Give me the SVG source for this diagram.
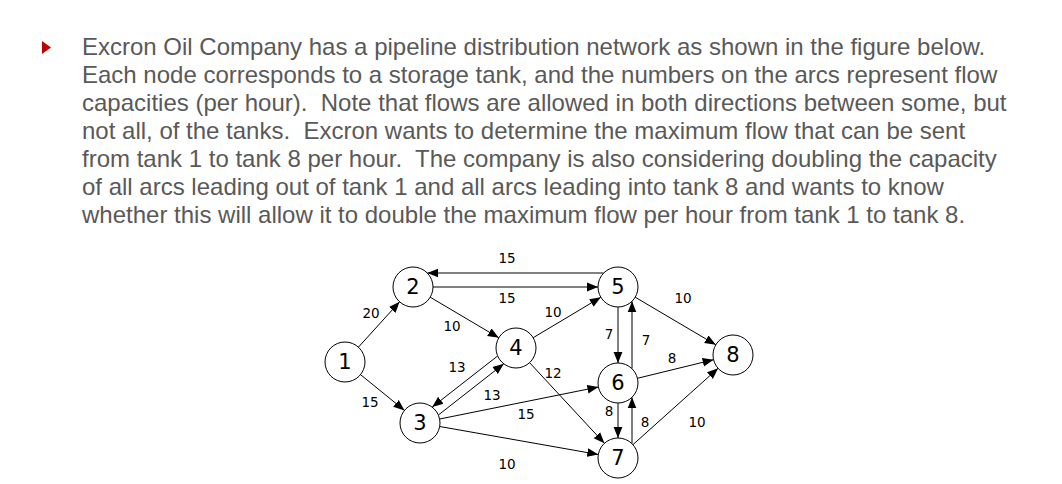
<svg xmlns="http://www.w3.org/2000/svg" width="1062" height="484" viewBox="0 0 1062 484">
<style>
.para{font-family:"Liberation Sans",Arial,sans-serif;font-size:24px;fill:#595959}
.node circle{fill:#fff;stroke:#000;stroke-width:1}
.node text{font-family:"DejaVu Sans",Verdana,sans-serif;font-size:21px;fill:#000;text-anchor:middle;dominant-baseline:central}
.edges line{stroke:#000;stroke-width:1;marker-end:url(#ah)}
.lbl{font-family:"DejaVu Sans",Verdana,sans-serif;font-size:13.5px;fill:#000;text-anchor:middle;dominant-baseline:central}
</style>
<defs>
<marker id="ah" viewBox="0 0 10 10" refX="10" refY="5" markerWidth="11" markerHeight="11" markerUnits="userSpaceOnUse" orient="auto">
<path d="M0,1 L10,5 L0,9 z" fill="#000"/>
</marker>
</defs>
<rect width="1062" height="484" fill="#fff"/>
<polygon points="42,41 51,47.5 42,54" fill="#C00000"/>
<g class="para">
<text x="82" y="55">Excron Oil Company has a pipeline distribution network as shown in the figure below.</text>
<text x="82" y="83">Each node corresponds to a storage tank, and the numbers on the arcs represent flow</text>
<text x="82" y="111">capacities (per hour).&#160; Note that flows are allowed in both directions between some, but</text>
<text x="82" y="139">not all, of the tanks.&#160; Excron wants to determine the maximum flow that can be sent</text>
<text x="82" y="167">from tank 1 to tank 8 per hour.&#160; The company is also considering doubling the capacity</text>
<text x="82" y="195">of all arcs leading out of tank 1 and all arcs leading into tank 8 and wants to know</text>
<text x="82" y="223">whether this will allow it to double the maximum flow per hour from tank 1 to tank 8.</text>
</g>
<g class="edges">
<line x1="358.4" y1="347.2" x2="399.6" y2="301.8"/>
<line x1="360.5" y1="374.6" x2="404.5" y2="410.4"/>
<line x1="430.2" y1="297.2" x2="498.8" y2="337.8"/>
<line x1="603.7" y1="273" x2="427.3" y2="273"/>
<line x1="433" y1="287" x2="598" y2="287"/>
<line x1="533.2" y1="337.7" x2="600.8" y2="297.3"/>
<line x1="497.6" y1="356" x2="432.2" y2="407.1"/>
<line x1="438.4" y1="415" x2="503.8" y2="363.8"/>
<line x1="529.6" y1="362.7" x2="604.4" y2="443.3"/>
<line x1="439.6" y1="419" x2="598.4" y2="387"/>
<line x1="439.7" y1="426.5" x2="598.3" y2="454.5"/>
<line x1="618" y1="307" x2="618" y2="363"/>
<line x1="632" y1="368.7" x2="632" y2="301.3"/>
<line x1="618" y1="403" x2="618" y2="438"/>
<line x1="632" y1="443.7" x2="632" y2="397.3"/>
<line x1="635.2" y1="297.2" x2="715.8" y2="344.8"/>
<line x1="637.4" y1="378.3" x2="713.6" y2="359.7"/>
<line x1="632.9" y1="444.7" x2="718.1" y2="368.3"/>
</g>
<g id="edge-labels">
<text class="lbl" x="507" y="258">15</text>
<text class="lbl" x="507" y="298">15</text>
<text class="lbl" x="371" y="313">20</text>
<text class="lbl" x="452" y="326">10</text>
<text class="lbl" x="370" y="402">15</text>
<text class="lbl" x="457" y="367">13</text>
<text class="lbl" x="492" y="395">13</text>
<text class="lbl" x="553" y="312">10</text>
<text class="lbl" x="553" y="373">12</text>
<text class="lbl" x="526" y="414">15</text>
<text class="lbl" x="507" y="464">10</text>
<text class="lbl" x="609" y="334">7</text>
<text class="lbl" x="646" y="340">7</text>
<text class="lbl" x="609" y="411">8</text>
<text class="lbl" x="645" y="422">8</text>
<text class="lbl" x="683" y="298">10</text>
<text class="lbl" x="672" y="358">8</text>
<text class="lbl" x="697" y="422">10</text>
</g>
<g id="n1" class="node"><circle cx="345" cy="362" r="20"/><text x="345" y="362">1</text></g>
<g id="n2" class="node"><circle cx="413" cy="287" r="20"/><text x="413" y="287">2</text></g>
<g id="n3" class="node"><circle cx="420" cy="423" r="20"/><text x="420" y="423">3</text></g>
<g id="n4" class="node"><circle cx="516" cy="348" r="20"/><text x="516" y="348">4</text></g>
<g id="n5" class="node"><circle cx="618" cy="287" r="20"/><text x="618" y="287">5</text></g>
<g id="n6" class="node"><circle cx="618" cy="383" r="20"/><text x="618" y="383">6</text></g>
<g id="n7" class="node"><circle cx="618" cy="458" r="20"/><text x="618" y="458">7</text></g>
<g id="n8" class="node"><circle cx="733" cy="355" r="20"/><text x="733" y="355">8</text></g>
</svg>
